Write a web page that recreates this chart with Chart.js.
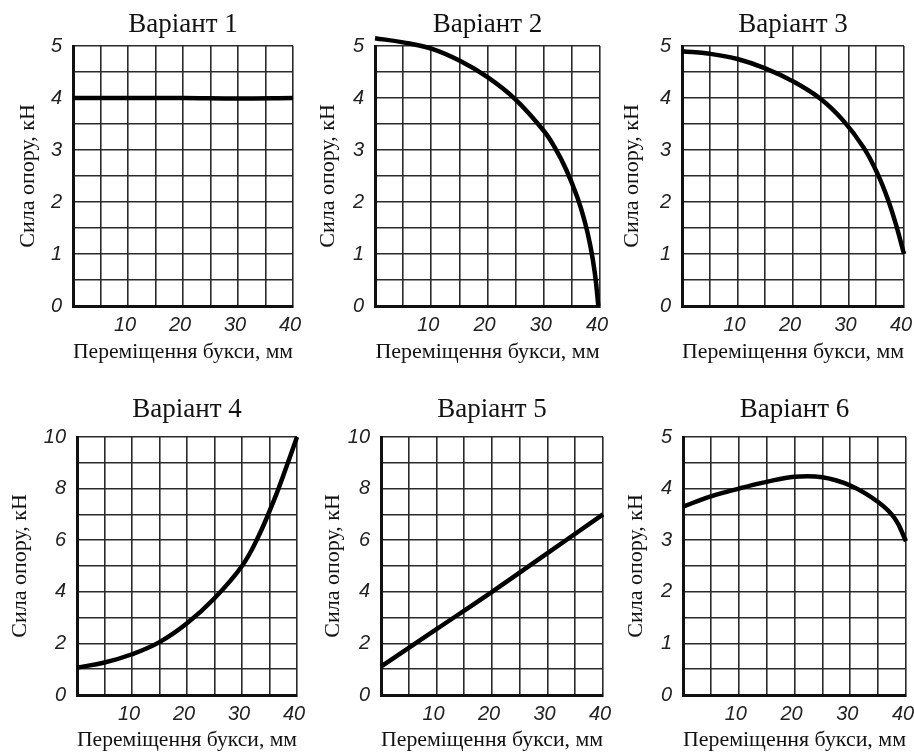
<!DOCTYPE html>
<html>
<head>
<meta charset="utf-8">
<script src="https://cdn.jsdelivr.net/npm/chart.js@4.4.0/dist/chart.umd.min.js"></script>
<style>
    body { margin: 0; background: #fff; width: 914px; height: 755px; overflow: hidden; position: relative; }
    canvas { position: absolute; }
</style>
</head>
<body>
<canvas id="c1"></canvas>
<canvas id="c2"></canvas>
<canvas id="c3"></canvas>
<canvas id="c4"></canvas>
<canvas id="c5"></canvas>
<canvas id="c6"></canvas>
<script>
/* DATA */

const titles = ["Варіант 1", "Варіант 2", "Варіант 3", "Варіант 4", "Варіант 5", "Варіант 6"];
const xTitle = "Переміщення букси, мм";
const yTitle = "Сила опору, кН";

const xTickLabels = [10, 20, 30, 40];
const yTickLabels5 = [0, 1, 2, 3, 4, 5];
const yTickLabels10 = [0, 2, 4, 6, 8, 10];

const v1X = [0, 10, 20, 30, 40];
const v1Y = [4, 4, 4, 3.99, 4];

const v2X = [0, 5, 10, 15, 20, 25, 30, 32, 34, 36, 37.3, 38.3, 39.1, 39.7];
const v2Y = [5.15, 5.07, 4.95, 4.72, 4.4, 3.97, 3.37, 3.04, 2.62, 2.08, 1.62, 1.15, 0.62, 0];

const v3X = [0, 5, 10, 15, 20, 25, 29.1, 32.7, 35.2, 37.1, 38.6, 40];
const v3Y = [4.9, 4.85, 4.75, 4.57, 4.32, 3.98, 3.56, 3.05, 2.55, 2.05, 1.55, 1.0];

const v4X = [0, 5, 10, 15, 20, 25, 30, 33, 36, 38, 40];
const v4Y = [1.06, 1.26, 1.58, 2.05, 2.78, 3.75, 5.0, 6.15, 7.65, 8.8, 10];

const v5X = [0, 10, 20, 30, 40];
const v5Y = [1.1, 2.55, 4.0, 5.5, 7.0];

const v6X = [0, 5, 10, 15, 20, 25, 30, 35, 38, 40];
const v6Y = [3.65, 3.85, 4.0, 4.13, 4.23, 4.22, 4.06, 3.74, 3.42, 2.98];

/* LAYOUT */

// where each plot sits on the page
var boxes = [
    { left: 15, top: 0, axisW: 58, plotW: 220, plotH: 260, padTop: 9, padBottom: 4.6, xPad: 1 },
    { left: 315, top: 0, axisW: 60, plotW: 225, plotH: 260, padTop: 9, padBottom: 4.6, xPad: 1 },
    { left: 619, top: 0, axisW: 63, plotW: 222, plotH: 260, padTop: 9, padBottom: 4.6, xPad: 1 },
    { left: 7, top: 380, axisW: 70, plotW: 220, plotH: 258, padTop: 14, padBottom: 10.6, xPad: 2 },
    { left: 320, top: 380, axisW: 61, plotW: 222, plotH: 258, padTop: 14, padBottom: 10.6, xPad: 2 },
    { left: 623, top: 380, axisW: 60, plotW: 223, plotH: 258, padTop: 14, padBottom: 10.6, xPad: 2 }
];

const padRight = 8;
const xAxisH = 60;
const titleSize = 27;

function toPoints(xs, ys) {
    return xs.map(function (x, i) { return { x: x, y: ys[i] }; });
}

function makeChart(n, xs, ys, yMax, yLabels) {
    var b = boxes[n];
    var canvas = document.getElementById("c" + (n + 1));
    var titleH = b.padTop + titleSize * 1.2 + b.padBottom;
    canvas.width = b.axisW + b.plotW + padRight;
    canvas.height = Math.round(titleH + b.plotH + xAxisH);
    canvas.style.left = b.left + "px";
    canvas.style.top = b.top + "px";

    var grid = { color: "#2a2a2a", lineWidth: 1.6, drawTicks: false };
    var border = { display: true, color: "#111", width: 3 };
    var tickFont = { family: "Liberation Sans", size: 20, style: "italic" };
    var titleFont = { family: "Liberation Serif", size: 22 };

    return new Chart(canvas.getContext("2d"), {
        type: "line",
        data: {
            datasets: [{
                data: toPoints(xs, ys),
                borderColor: "#000",
                borderWidth: 4.5,
                pointRadius: 0,
                tension: 0.4,
                clip: false
            }]
        },
        options: {
            responsive: false,
            animation: false,
            layout: { padding: { right: padRight } },
            plugins: {
                legend: { display: false },
                tooltip: { enabled: false },
                title: {
                    display: true,
                    fullSize: false,
                    text: titles[n],
                    color: "#111",
                    font: { family: "Liberation Serif", size: titleSize, weight: "normal" },
                    padding: { top: b.padTop, bottom: b.padBottom }
                }
            },
            scales: {
                x: {
                    type: "linear",
                    min: 0,
                    max: 40,
                    grid: grid,
                    border: border,
                    ticks: {
                        stepSize: 5,
                        autoSkip: false,
                        maxRotation: 0,
                        padding: 7,
                        labelOffset: -3,
                        color: "#222",
                        font: tickFont,
                        callback: function (v) { return xTickLabels.includes(v) ? v : ""; }
                    },
                    title: { display: true, text: xTitle, color: "#111", font: titleFont, padding: { top: 0, bottom: b.xPad } },
                    afterFit: function (s) { s.height = xAxisH; s.paddingLeft = 0; s.paddingRight = 0; }
                },
                y: {
                    min: 0,
                    max: yMax,
                    grid: grid,
                    border: border,
                    ticks: {
                        stepSize: yMax / 10,
                        autoSkip: false,
                        padding: 11,
                        color: "#222",
                        font: tickFont,
                        callback: function (v) { return yLabels.includes(v) ? v : ""; }
                    },
                    title: { display: true, text: yTitle, color: "#111", font: titleFont, padding: { top: 0, bottom: 0 } },
                    afterFit: function (s) { s.width = b.axisW; s.paddingTop = 0; s.paddingBottom = 0; }
                }
            }
        }
    });
}

makeChart(0, v1X, v1Y, 5, yTickLabels5);
makeChart(1, v2X, v2Y, 5, yTickLabels5);
makeChart(2, v3X, v3Y, 5, yTickLabels5);
makeChart(3, v4X, v4Y, 10, yTickLabels10);
makeChart(4, v5X, v5Y, 10, yTickLabels10);
makeChart(5, v6X, v6Y, 5, yTickLabels5);
</script>
</body>
</html>
